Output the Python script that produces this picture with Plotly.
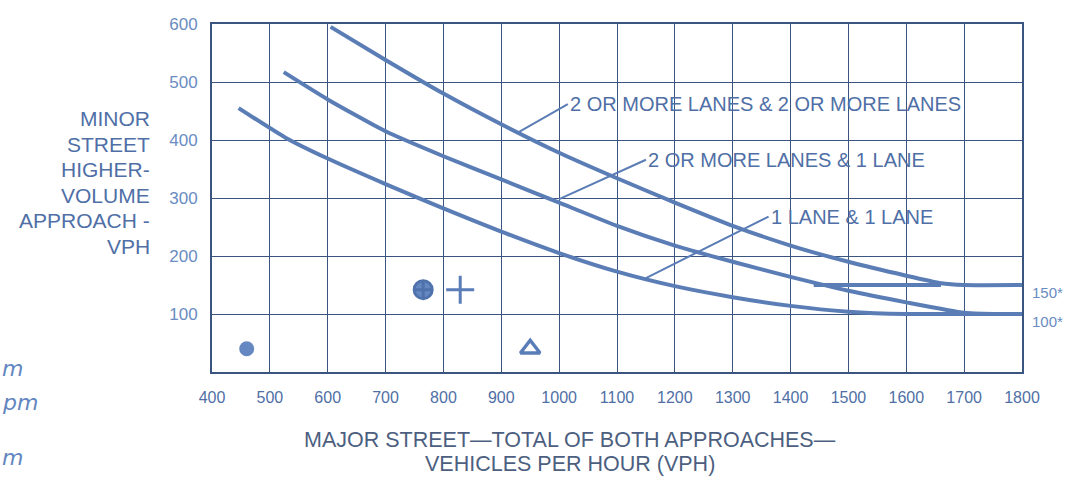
import plotly.graph_objects as go

# Major-street volume (vph) and minor-street approach threshold (vph) for each lane configuration
x_2plus_2plus = [605, 700, 800, 900, 1000, 1100, 1200, 1300, 1400, 1500, 1600, 1660, 1700, 1800]
y_2plus_2plus = [595, 538, 480, 427, 378, 334, 292, 252, 218, 190, 166, 153, 150, 150]

x_2plus_1 = [524, 600, 700, 800, 900, 1000, 1100, 1200, 1300, 1400, 1500, 1600, 1700, 1750, 1800]
y_2plus_1 = [517, 470, 415, 372, 332, 292, 252, 218, 190, 164, 140, 120, 102, 100, 100]

x_1_1 = [446, 527, 600, 700, 800, 900, 1000, 1100, 1200, 1300, 1400, 1500, 1600, 1700, 1800]
y_1_1 = [455, 404, 368, 324, 282, 242, 205, 173, 148, 129, 114, 104, 100, 100, 100]

# Lower threshold segment for two-lane minor approaches
x_150_floor = [1440, 1660]
y_150_floor = [150, 150]

# Hand-marked observations
obs_dot = ([460], [40])
obs_target = ([765], [142])
obs_plus = ([829], [142])
obs_triangle = ([950], [40])

x_ticks = list(range(400, 1801, 100))
y_ticks = list(range(100, 601, 100))

CURVE = "#5b7db6"
GRID = "#3a5580"
TEXT = "#4f6fa6"
FONT = "Liberation Sans, Arial, sans-serif"

fig = go.Figure()

for xs, ys in [(x_2plus_2plus, y_2plus_2plus), (x_2plus_1, y_2plus_1), (x_1_1, y_1_1),
               (x_150_floor, y_150_floor)]:
    fig.add_trace(go.Scatter(x=xs, y=ys, mode="lines",
                             line=dict(color=CURVE, width=4, shape="spline", smoothing=0.5),
                             hoverinfo="skip", showlegend=False))

fig.add_trace(go.Scatter(x=obs_dot[0], y=obs_dot[1], mode="markers",
                         marker=dict(symbol="circle", size=15, color="#6688c2"), showlegend=False))
fig.add_trace(go.Scatter(x=obs_target[0], y=obs_target[1], mode="markers",
                         marker=dict(symbol="circle-cross", size=18, color="#6688c0",
                                     line=dict(color="#4f72ad", width=3)), showlegend=False))
fig.add_trace(go.Scatter(x=obs_plus[0], y=obs_plus[1], mode="markers",
                         marker=dict(symbol="cross-thin", size=20, color="#5a7db8",
                                     line=dict(color="#5a7db8", width=3)),
                         showlegend=False))
fig.add_trace(go.Scatter(x=obs_triangle[0], y=obs_triangle[1], mode="markers",
                         marker=dict(symbol="triangle-up-open", size=17, color="#5a7db8",
                                     line=dict(color="#5a7db8", width=3.5)),
                         showlegend=False))

# Curve labels with leader lines
labels = [
    ("2 OR MORE LANES & 2 OR MORE LANES", 927, 412, 1015, 462),
    ("2 OR MORE LANES & 1 LANE", 1000, 298, 1150, 366),
    ("1 LANE & 1 LANE", 1150, 162, 1362, 268),
]
for text, tx, ty, lx, ly in labels:
    fig.add_annotation(x=tx, y=ty, ax=lx, ay=ly, axref="x", ayref="y", text=text,
                       xanchor="left", yanchor="middle", showarrow=True, arrowhead=0,
                       arrowwidth=2, arrowcolor=CURVE, standoff=0,
                       font=dict(family=FONT, size=20, color=TEXT))

# Lower threshold values on the right margin
for txt, yv in [("150*", 150), ("100*", 100)]:
    fig.add_annotation(x=1.0, xref="paper", y=yv, yref="y", text=txt, showarrow=False,
                       xanchor="left", xshift=8, yshift=-7,
                       font=dict(family=FONT, size=15, color="#6a8cc2"))

# Plot area spans 348 px vertically; helper converts a pixel row to paper coordinates
def paper_y(px):
    return (372 - px) / 348

# Y-axis title, one line per annotation
y_title = ["MINOR", "STREET", "HIGHER-", "VOLUME", "APPROACH -", "VPH"]
for i, line in enumerate(y_title):
    fig.add_annotation(xref="paper", yref="paper", x=-60 / 810, y=paper_y(119 + 25.4 * i),
                       xanchor="right", yanchor="middle", showarrow=False, text=line,
                       font=dict(family=FONT, size=21, color=TEXT))

# X-axis title
x_title = ["MAJOR STREET\u2014TOTAL OF BOTH APPROACHES\u2014", "VEHICLES PER HOUR (VPH)"]
for i, line in enumerate(x_title):
    fig.add_annotation(xref="paper", yref="paper", x=(570 - 212) / 810, y=paper_y(440 + 24 * i),
                       xanchor="center", yanchor="middle", showarrow=False, text=line,
                       font=dict(family=FONT, size=21.5, color="#4d5f80"))

# Handwritten notes in the left margin
for txt, py in [("m", 368), ("pm", 402), ("m", 457)]:
    fig.add_annotation(xref="paper", yref="paper", x=-212 / 810, y=paper_y(py), xanchor="left",
                       yanchor="middle", showarrow=False, text="<i>" + txt + "</i>",
                       font=dict(family="DejaVu Sans", size=22, color="#6386c0"))

fig.update_xaxes(range=[400, 1800], tickvals=x_ticks, ticktext=[str(v) for v in x_ticks],
                 showgrid=True, gridcolor=GRID, gridwidth=1.3, zeroline=False,
                 showline=True, linecolor=GRID, linewidth=1.8, mirror=True,
                 ticks="", ticklabelstandoff=10,
                 tickfont=dict(family=FONT, size=16, color=TEXT))
fig.update_yaxes(range=[0, 600], tickvals=y_ticks, ticktext=[str(v) for v in y_ticks],
                 showgrid=True, gridcolor=GRID, gridwidth=1.3, zeroline=False,
                 showline=True, linecolor=GRID, linewidth=1.8, mirror=True,
                 ticks="", ticklabelstandoff=9,
                 tickfont=dict(family=FONT, size=17, color="#6a8cc2"))

fig.update_layout(width=1069, height=481, paper_bgcolor="white", plot_bgcolor="white",
                  margin=dict(l=212, r=47, t=24, b=109), showlegend=False)

fig.write_html("out.html")
